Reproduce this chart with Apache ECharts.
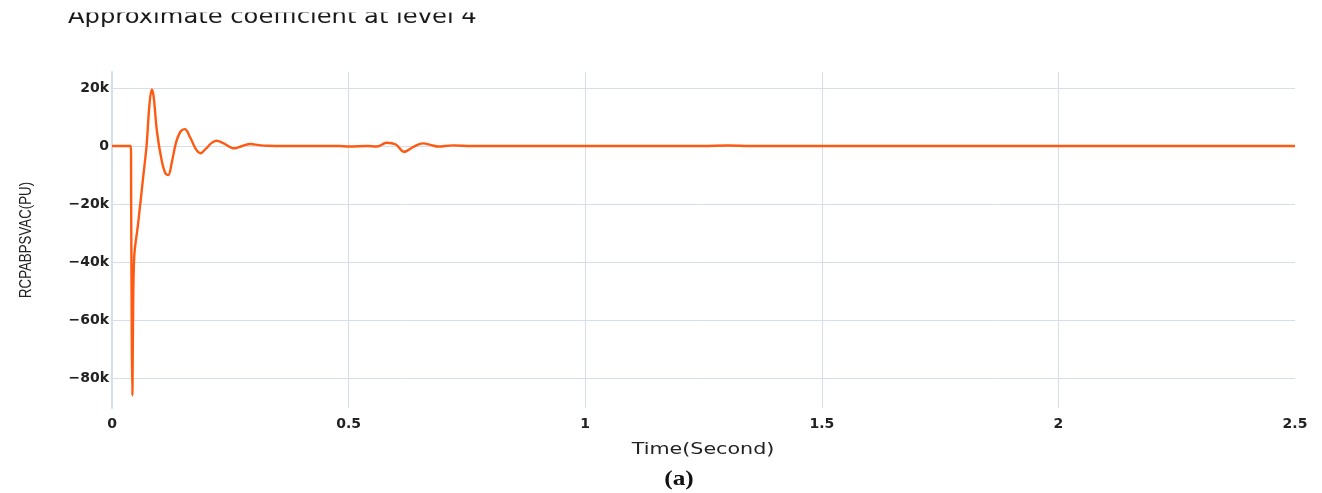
<!DOCTYPE html>
<html><head><meta charset="utf-8">
<script src="https://cdn.jsdelivr.net/npm/echarts@6/dist/echarts.min.js"></script>
<style>html,body{margin:0;padding:0;background:#fff}#c{width:1322px;height:493px}</style>
</head><body><div id="c"></div>
<script>
const titleText = 'Approximate coefficient at level 4';
const xName = 'Time(Second)';
const yName = 'RCPABPSVAC(PU)';
const subLabel = '(a)';
const xTicks = [0, 0.5, 1, 1.5, 2, 2.5];
const xGridTicks = [0.5, 1, 1.5, 2];
const yTicks = [-80000, -60000, -40000, -20000, 0, 20000];
const timeSec = [0, 0.040, 0.0405, 0.042, 0.043, 0.0445, 0.047, 0.055, 0.065, 0.073, 0.079, 0.084, 0.088, 0.095, 0.105, 0.113, 0.119, 0.126, 0.135, 0.145, 0.154, 0.165, 0.177, 0.187, 0.198, 0.210, 0.221, 0.235, 0.258, 0.275, 0.293, 0.310, 0.330, 0.400, 0.480, 0.500, 0.540, 0.560, 0.580, 0.600, 0.617, 0.637, 0.657, 0.675, 0.689, 0.720, 0.760, 1.000, 1.250, 1.300, 1.350, 2.500];
const coefVal = [0, 0, -20000, -70000, -86000, -60000, -38000, -27000, -12000, 0, 14000, 19500, 17000, 5000, -5000, -9500, -10000, -6000, 1000, 5000, 5800, 3000, -1000, -2500, -1000, 1000, 1800, 1000, -800, 0, 700, 300, 100, 0, 0, -200, 0, -200, 1100, 500, -2000, -300, 900, 300, -200, 200, 0, 0, 0, 150, 0, 0];

const gridColor = '#d6deec';
const lblFont = 'DejaVu Sans, Verdana, sans-serif';
const fmtY = v => v === 0 ? '0' : (v < 0 ? '\u2212' : '') + Math.abs(v / 1000) + 'k';

const chart = echarts.init(document.getElementById('c'), null, {renderer: 'canvas'});
chart.setOption({
  animation: false,
  backgroundColor: '#fff',
  grid: {left: 112, right: 27, top: 72, bottom: 85, containLabel: false},
  xAxis: {type: 'value', min: 0, max: 2.5,
    axisLine: {show: false},
    axisTick: {show: false, customValues: xGridTicks},
    axisLabel: {customValues: xTicks, fontFamily: lblFont, fontSize: 14, fontWeight: 'bold', color: '#222', margin: 9,
      formatter: v => String(v)},
    splitLine: {show: true, lineStyle: {color: gridColor, width: 1}}},
  yAxis: {type: 'value', min: -90300, max: 25500,
    axisLine: {show: true, lineStyle: {color: gridColor, width: 2}},
    axisTick: {show: false, customValues: yTicks},
    axisLabel: {customValues: yTicks, fontFamily: lblFont, fontSize: 14, fontWeight: 'bold', color: '#222', margin: 3, formatter: fmtY},
    splitLine: {show: true, lineStyle: {color: gridColor, width: 1}}},
  graphic: [
    {type: 'text', x: 68, y: 17.5, scaleX: 1.1, z: 10,
      style: {text: titleText, x: 0, y: 0, align: 'left', verticalAlign: 'middle',
        font: '22px "DejaVu Sans", Verdana, sans-serif', fill: '#1a1a1a'}},
    {type: 'rect', shape: {x: 0, y: 0, width: 1322, height: 12.5}, z: 20,
      style: {fill: '#fff'}},
    {type: 'text', x: 703, y: 450, scaleX: 1.29, z: 10,
      style: {text: xName, x: 0, y: 0, align: 'center', verticalAlign: 'middle',
        font: '16px "DejaVu Sans", Verdana, sans-serif', fill: '#222'}},
    {type: 'text', x: 27, y: 240, rotation: Math.PI / 2, scaleX: 0.83, z: 10,
      style: {text: yName, x: 0, y: 0, align: 'center', verticalAlign: 'middle',
        font: '16px "Liberation Sans", Arial, sans-serif', fill: '#222'}},
    {type: 'text', x: 679, y: 479, scaleX: 1.15, z: 10,
      style: {text: subLabel, x: 0, y: 0, align: 'center', verticalAlign: 'middle',
        font: 'bold 22px "Liberation Serif", "Times New Roman", serif', fill: '#111'}}
  ],
  series: [{type: 'line', data: timeSec.map((t, i) => [t, coefVal[i]]),
    showSymbol: false, smooth: 0.35,
    lineStyle: {color: '#ff5a12', width: 2.4}}]
});
</script></body></html>
